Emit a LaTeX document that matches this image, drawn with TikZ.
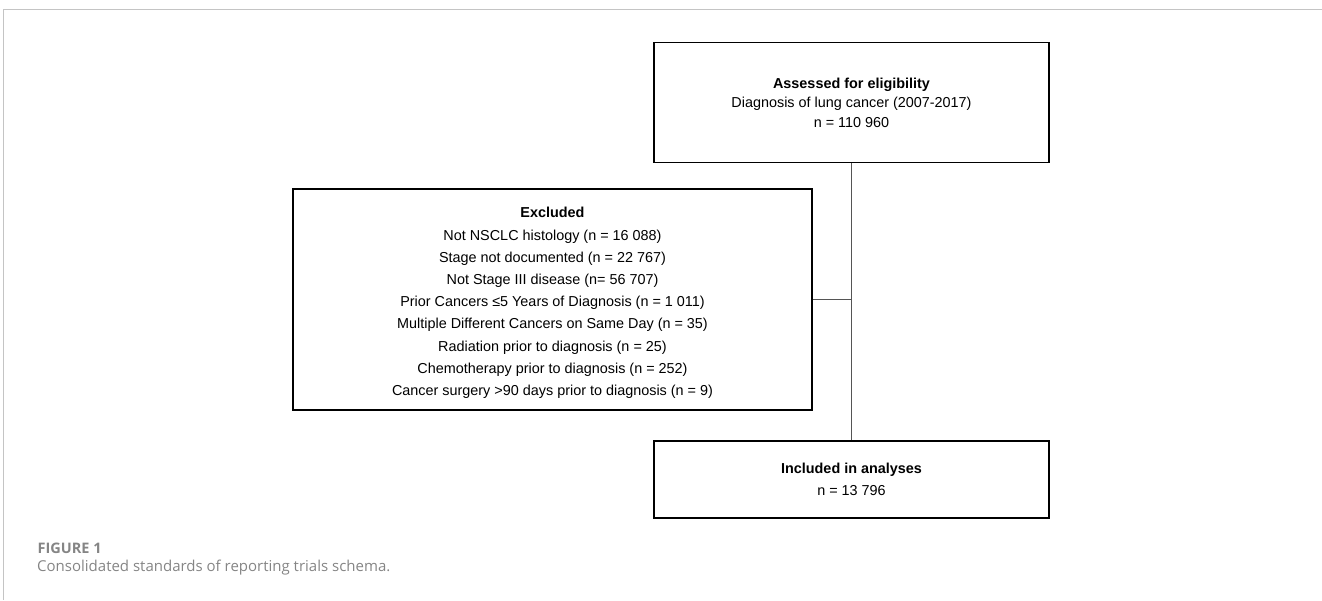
\documentclass[tikz,border=0pt]{standalone}
\usepackage{fontspec}
\setmainfont{Liberation Sans}
\newfontfamily\capfont{Open Sans}
\definecolor{framegray}{HTML}{C4C4C4}
\definecolor{linkgray}{HTML}{555555}
\definecolor{capgray}{HTML}{858585}
\tikzset{
  flowbox/.style={draw=black, line width=1.2pt, rectangle, align=center, inner sep=0pt,
    font=\fontsize{14.4}{19.5}\selectfont},
  link/.style={draw=linkgray, line width=1pt},
}
\begin{document}
\begin{tikzpicture}[x=1pt,y=-1pt]
\useasboundingbox (0,0) rectangle (1322,600);
\draw[framegray, line width=1pt] (1322,9) -- (3.5,9) -- (3.5,600);
\node[flowbox, minimum width=395pt, minimum height=120pt] (top) at (851.5,102.5)
  {\textbf{Assessed for eligibility}\\Diagnosis of lung cancer (2007-2017)\\n = 110 960};
\node[flowbox, minimum width=519pt, minimum height=221pt, font=\fontsize{14.4}{22.2}\selectfont] (exc) at (552.5,299.5)
  {\rule{0pt}{17.5pt}\textbf{Excluded}\\Not NSCLC histology (n = 16 088)\\Stage not documented (n = 22 767)\\Not Stage III disease (n= 56 707)\\Prior Cancers ≤5 Years of Diagnosis (n = 1 011)\\Multiple Different Cancers on Same Day (n = 35)\\Radiation prior to diagnosis (n = 25)\\Chemotherapy prior to diagnosis (n = 252)\\Cancer surgery >90 days prior to diagnosis (n = 9)};
\node[flowbox, minimum width=395pt, minimum height=77pt, font=\fontsize{14.4}{22}\selectfont] (inc) at (851.5,479.5)
  {\textbf{Included in analyses}\\n = 13 796};
\draw[link] (top.south) -- (inc.north);
\draw[link] (exc.east) -- (exc.east -| top.south);
\node[anchor=west, inner sep=0pt, text=capgray, font=\capfont\fontsize{14.5}{16}\selectfont\bfseries] (figlabel) at (37.5,548) {FIGURE 1};
\node[anchor=west, inner sep=0pt, text=capgray, font=\capfont\fontsize{15}{18}\selectfont] (caption) at (37,568) {Consolidated standards of reporting trials schema.};
\end{tikzpicture}
\end{document}
